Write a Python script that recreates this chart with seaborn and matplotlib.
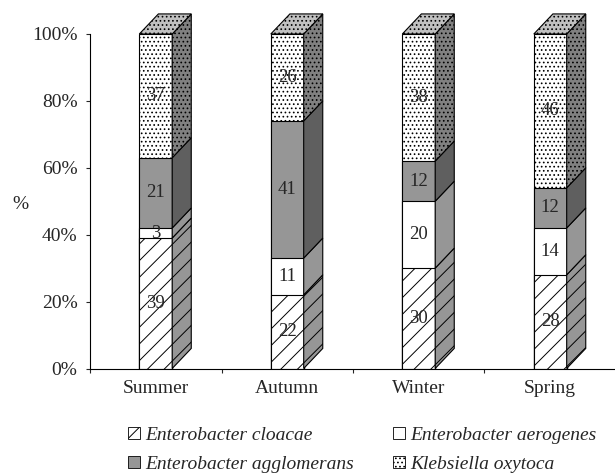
import pandas as pd
import matplotlib.pyplot as plt
import seaborn as sns
from matplotlib.patches import Polygon, Patch
from matplotlib.ticker import PercentFormatter, FixedLocator, MultipleLocator

# ---- Data ----
seasons = ['Summer', 'Autumn', 'Winter', 'Spring']
species = ['Enterobacter cloacae', 'Enterobacter aerogenes',
           'Enterobacter agglomerans', 'Klebsiella oxytoca']
cloacae = [39, 22, 30, 28]
aerogenes = [3, 11, 20, 14]
agglomerans = [21, 41, 12, 12]
oxytoca = [37, 26, 38, 46]

# style per species (front face, side face, hatch)
front_colors = ['white', 'white', '#969696', 'white']
side_colors = ['#969696', '#969696', '#5f5f5f', '#808080']
hatches = ['//', None, None, '....']
top_color = '#c0c0c0'

sns.set_style('ticks')
plt.rcParams['font.family'] = ['Liberation Serif', 'DejaVu Serif']
plt.rcParams['hatch.linewidth'] = 0.7

df = pd.DataFrame({'Season': seasons, species[0]: cloacae, species[1]: aerogenes,
                   species[2]: agglomerans, species[3]: oxytoca})
cum = df[species].cumsum(axis=1)

fig = plt.figure(figsize=(6.15, 4.74), dpi=100)
ax = fig.add_axes([90 / 615, 1 - 368.5 / 474, 526 / 615, 334.5 / 474])

bar_w = 0.25
# front faces: stacked by drawing cumulative totals, top segment first
for i in reversed(range(len(species))):
    sns.barplot(x=df['Season'], y=cum[species[i]], ax=ax, width=bar_w,
                color=front_colors[i], saturation=1, errorbar=None,
                edgecolor='black', linewidth=0.8, hatch=hatches[i], zorder=1)

# fake 3D depth: side and top faces
dx, dy = 0.145, 6.0
for j in range(len(seasons)):
    xl, xr = j - bar_w / 2, j + bar_w / 2
    bottom = 0
    for i in range(len(species)):
        top = cum[species[i]][j]
        side = Polygon([(xr, bottom), (xr + dx, bottom + dy), (xr + dx, top + dy), (xr, top)],
                       closed=True, facecolor=side_colors[i], edgecolor='black',
                       linewidth=0.8, hatch=hatches[i], clip_on=False, zorder=2)
        ax.add_patch(side)
        val = df[species[i]][j]
        ax.text(j, bottom + val / 2, str(val), ha='center', va='center',
                fontsize=13.5, zorder=3)
        bottom = top
    lid = Polygon([(xl, 100), (xl + dx, 100 + dy), (xr + dx, 100 + dy), (xr, 100)],
                  closed=True, facecolor=top_color, edgecolor='black', linewidth=0.8,
                  hatch='....', clip_on=False, zorder=2)
    ax.add_patch(lid)

# ---- Axes ----
ax.set_xlim(-0.5, 3.5)
ax.set_ylim(0, 100)
ax.yaxis.set_major_locator(MultipleLocator(20))
ax.yaxis.set_major_formatter(PercentFormatter(decimals=0))
ax.xaxis.set_minor_locator(FixedLocator([-0.5, 0.5, 1.5, 2.5, 3.5]))
ax.tick_params(axis='x', which='major', length=0, pad=8, labelsize=14)
ax.tick_params(axis='x', which='minor', length=3, width=0.8, direction='out')
ax.tick_params(axis='y', length=3, width=0.8, direction='out', pad=6, labelsize=14)
ax.set_xlabel('')
ax.set_ylabel('%', fontsize=14, rotation=0, ha='center', va='center')
ax.yaxis.set_label_coords(-0.133, 0.489)
for s in ['left', 'bottom']:
    ax.spines[s].set_linewidth(0.8)
    ax.spines[s].set_color('black')
sns.despine(ax=ax)

# ---- Legend ----
handles = [Patch(facecolor=front_colors[i], edgecolor='black', linewidth=0.6,
                 hatch=hatches[i], label=species[i]) for i in [0, 2, 1, 3]]
fig.legend(handles=handles, ncol=2, loc='upper left', bbox_to_anchor=(128 / 615, 1 - 427 / 474),
           frameon=False, prop={'style': 'italic', 'size': 14}, handlelength=0.6,
           handleheight=0.6, handletextpad=0.3, columnspacing=2.0, labelspacing=0.6,
           borderpad=0, borderaxespad=0)

fig.savefig('out.png', dpi=100)
